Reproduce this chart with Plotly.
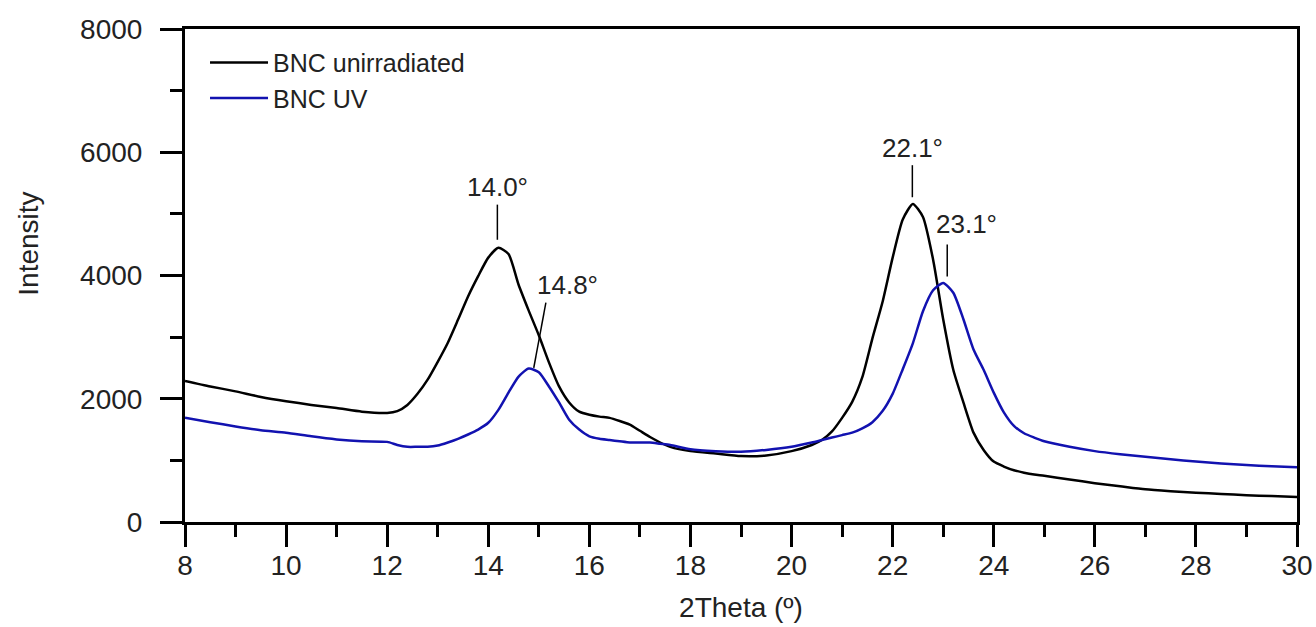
import plotly.graph_objects as go

two_theta = [8, 8.5, 9, 9.5, 10, 10.5, 11, 11.5, 12, 12.2, 12.4, 12.6, 12.8, 13.0, 13.2, 13.4,
             13.6, 13.8, 14.0, 14.2, 14.4, 14.6, 14.8, 15.0, 15.2, 15.4, 15.6, 15.8, 16.0, 16.2,
             16.4, 16.6, 16.8, 17.0, 17.2, 17.4, 17.6, 18.0, 18.5, 19.0, 19.5, 20.0, 20.4, 20.6,
             20.8, 21.0, 21.2, 21.4, 21.6, 21.8, 22.0, 22.2, 22.4, 22.6, 22.8, 23.0, 23.2, 23.4,
             23.6, 23.8, 24.0, 24.2, 24.4, 24.6, 24.8, 25.0, 25.5, 26, 26.5, 27, 27.5, 28, 28.5,
             29, 29.5, 30]

bnc_unirradiated = [2290, 2200, 2120, 2030, 1960, 1900, 1850, 1790, 1770, 1800, 1900, 2080, 2310,
                    2600, 2910, 3280, 3660, 3990, 4290, 4450, 4350, 3850, 3430, 3030, 2590, 2200,
                    1940, 1790, 1740, 1710, 1690, 1640, 1580, 1480, 1380, 1290, 1220, 1150, 1110,
                    1070, 1080, 1150, 1250, 1330, 1470, 1690, 1950, 2350, 2980, 3570, 4290, 4910,
                    5160, 4950, 4260, 3290, 2470, 1940, 1450, 1170, 980, 900, 840, 800, 770, 750,
                    690, 630, 580, 530, 500, 475, 455, 435, 420, 405]

bnc_uv = [1690, 1620, 1550, 1490, 1450, 1390, 1340, 1310, 1300, 1250, 1220, 1220, 1220, 1240,
          1290, 1350, 1420, 1500, 1610, 1820, 2100, 2360, 2490, 2430, 2200, 1940, 1660, 1500,
          1390, 1350, 1330, 1310, 1290, 1290, 1290, 1270, 1250, 1180, 1150, 1140, 1170, 1220,
          1290, 1330, 1370, 1410, 1450, 1520, 1620, 1800, 2080, 2480, 2900, 3420, 3760, 3880,
          3720, 3290, 2800, 2470, 2100, 1780, 1560, 1440, 1370, 1310, 1220, 1150, 1100, 1060,
          1020, 980, 950, 925, 905, 890]

peak_labels = ["14.0°", "14.8°", "22.1°", "23.1°"]
label_pos = [(14.18, 5430), (15.57, 3840), (22.39, 6065), (23.46, 4830)]
leader_lines = [((14.18, 5150), (14.18, 4580)), ((15.14, 3560), (14.90, 2500)),
                ((22.39, 5790), (22.39, 5270)), ((23.08, 4505), (23.08, 3985))]

FONT = "Liberation Sans, Arial, sans-serif"
TXT = "#222222"

fig = go.Figure()
fig.add_trace(go.Scatter(x=two_theta, y=bnc_unirradiated, mode="lines", name="BNC unirradiated",
                         line=dict(color="#000000", width=2.5, shape="spline", smoothing=0.6)))
fig.add_trace(go.Scatter(x=two_theta, y=bnc_uv, mode="lines", name="BNC UV",
                         line=dict(color="#1212b0", width=2.5, shape="spline", smoothing=0.6)))

for txt, (lx, ly) in zip(peak_labels, label_pos):
    fig.add_annotation(x=lx, y=ly, text=txt, showarrow=False, xref="x", yref="y",
                       font=dict(family=FONT, size=26, color=TXT))
for (x0, y0), (x1, y1) in leader_lines:
    fig.add_shape(type="line", x0=x0, y0=y0, x1=x1, y1=y1, xref="x", yref="y",
                  line=dict(color="#000000", width=1.5))

fig.add_annotation(text="Intensity", xref="paper", yref="paper",
                   x=(28 - 185) / 1110, y=(522 - 244) / 493, xanchor="center", yanchor="middle",
                   showarrow=False, textangle=-90,
                   font=dict(family=FONT, size=28, color=TXT))

axis_common = dict(showline=True, linecolor="#000000", linewidth=3, mirror=True,
                   ticks="outside", ticklen=22, tickwidth=3, tickcolor="#000000",
                   showgrid=False, zeroline=False, automargin=False,
                   tickfont=dict(family=FONT, size=28, color=TXT))

fig.update_xaxes(range=[8, 30], tick0=8, dtick=2, ticklabelstandoff=-6,
                 minor=dict(ticks="outside", ticklen=12, tickwidth=3, tickcolor="#000000", dtick=1),
                 title=dict(text="2Theta (º)", font=dict(family=FONT, size=28, color=TXT), standoff=18),
                 **axis_common)
fig.update_yaxes(range=[0, 8000], tick0=0, dtick=2000, ticklabelstandoff=12,
                 minor=dict(ticks="outside", ticklen=12, tickwidth=3, tickcolor="#000000", dtick=1000),
                 **axis_common)

fig.update_layout(
    width=1316, height=627,
    margin=dict(l=185, r=19, t=29, b=105),
    plot_bgcolor="white", paper_bgcolor="white",
    showlegend=True,
    legend=dict(x=0.018, y=0.978, xanchor="left", yanchor="top", bgcolor="rgba(0,0,0,0)",
                font=dict(family=FONT, size=25, color=TXT), itemwidth=58, tracegroupgap=0),
)

fig.write_html("out.html")
